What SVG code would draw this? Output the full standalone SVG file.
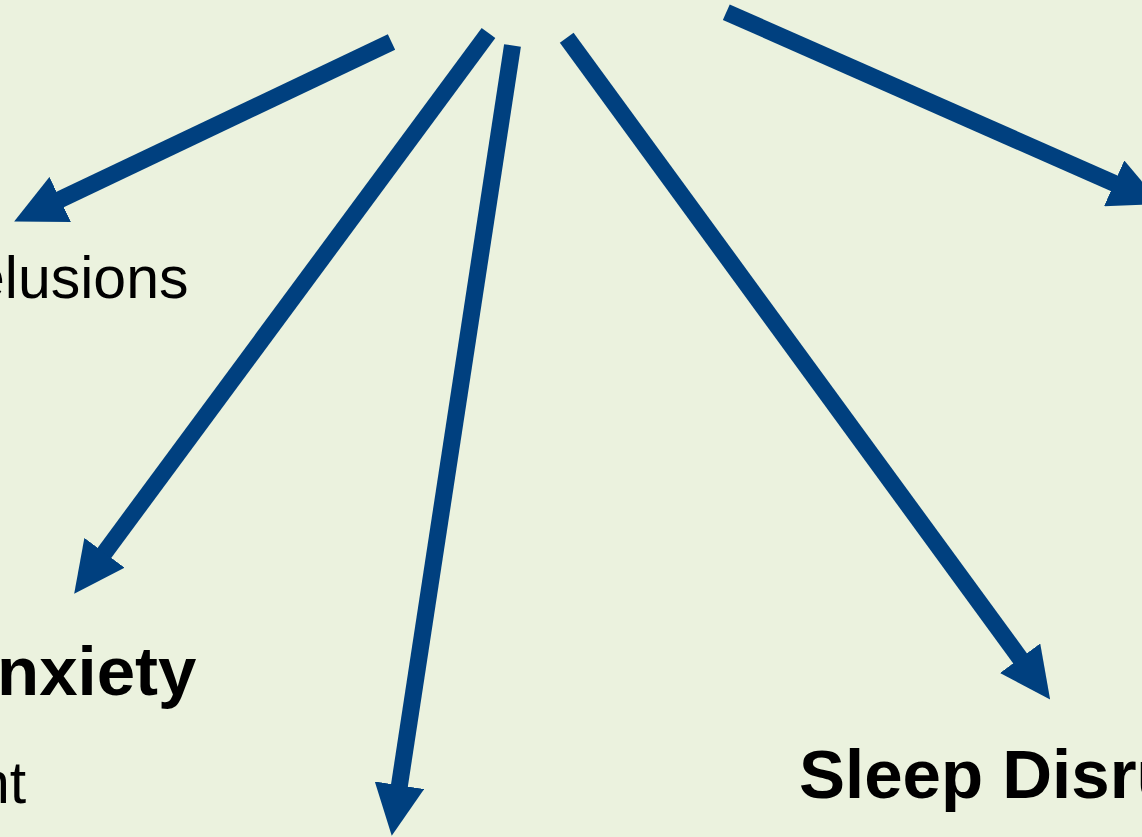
<svg xmlns="http://www.w3.org/2000/svg" width="1142" height="837" viewBox="0 0 1142 837">
  <defs>
    <style>
      .bg { fill: #EBF2DE; }
      .link { stroke: #00407F; stroke-width: 17; fill: none; stroke-linecap: butt; marker-end: url(#head); }
      .label { font-family: "Liberation Sans", Arial, sans-serif; fill: #000000; }
      .reg { font-size: 59px; font-weight: normal; }
      .bold { font-size: 69px; font-weight: bold; }
    </style>
    <marker id="head" markerUnits="userSpaceOnUse" viewBox="0 0 51 50" markerWidth="51" markerHeight="50" refX="3" refY="25" orient="auto">
      <path d="M0,0 L51,25 L0,50 Z" fill="#00407F"/>
    </marker>
  </defs>

  <rect class="bg" x="0" y="0" width="1142" height="837"/>

  <!-- connectors fanning out from the centre top -->
  <g id="connectors">
    <line class="link" x1="391.5" y1="42" x2="57.5" y2="200.8"/>
    <line class="link" x1="488.5" y1="33" x2="102.7" y2="555.2"/>
    <line class="link" x1="512.5" y1="45.5" x2="399.0" y2="788.2"/>
    <line class="link" x1="566.7" y1="37.7" x2="1021.8" y2="660.7"/>
    <line class="link" x1="726.3" y1="12.2" x2="1116.9" y2="184.5"/>
  </g>

  <g id="node-delusions">
    <text class="label reg" x="-28" y="298">elusions</text>
  </g>
  <g id="node-anxiety">
    <text class="label bold" x="-3" y="695">nxiety</text>
  </g>
  <g id="node-nt">
    <text class="label reg" x="-23" y="803">nt</text>
  </g>
  <g id="node-sleep">
    <text class="label bold" x="799" y="798">Sleep Disru</text>
  </g>
</svg>
